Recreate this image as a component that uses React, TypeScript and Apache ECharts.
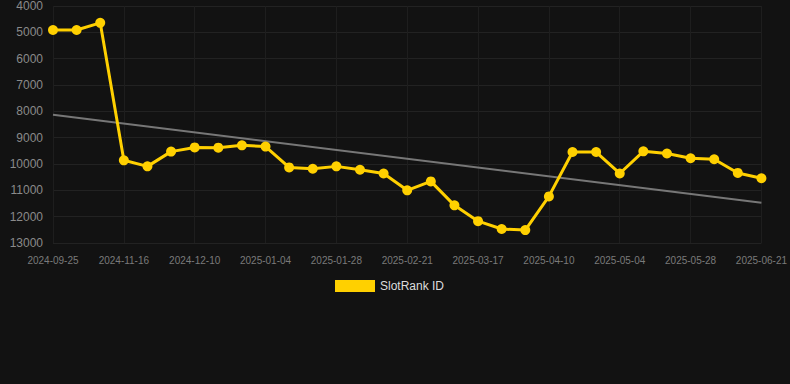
import React, { useEffect, useRef } from "react";
import * as echarts from "echarts";

const categories = [
  "2024-09-25", "2024-10-12", "2024-10-30", "2024-11-16", "2024-11-24", "2024-12-02",
  "2024-12-10", "2024-12-18", "2024-12-26", "2025-01-04", "2025-01-12", "2025-01-20",
  "2025-01-28", "2025-02-05", "2025-02-13", "2025-02-21", "2025-03-01", "2025-03-09",
  "2025-03-17", "2025-03-25", "2025-04-02", "2025-04-10", "2025-04-18", "2025-04-26",
  "2025-05-04", "2025-05-12", "2025-05-20", "2025-05-28", "2025-06-05", "2025-06-13",
  "2025-06-21",
];

const rankValues = [
  4910, 4910, 4640, 9860, 10090, 9530, 9370, 9380, 9290, 9340,
  10130, 10180, 10090, 10220, 10360, 11000, 10660, 11570, 12170, 12470,
  12510, 11230, 9545, 9545, 10360, 9520, 9600, 9780, 9820, 10340,
  10540,
];

const trendStart = 8130;
const trendEnd = 11470;

const yTicks = { min: 4000, max: 13000, interval: 1000 };

export default function App() {
  const ref = useRef<HTMLDivElement>(null);
  useEffect(() => {
    document.body.style.margin = "0";
    document.body.style.background = "#121212";
    if (!ref.current) return;
    const chart = echarts.init(ref.current, undefined, { renderer: "svg" });
    const trendData = categories.map((_, i) =>
      i === 0 ? trendStart : i === categories.length - 1 ? trendEnd : null
    );
    chart.setOption({
      animation: false,
      backgroundColor: "#121212",
      grid: { left: 53, right: 28, top: 6, bottom: 141 },
      legend: {
        top: 275,
        left: 330,
        itemWidth: 40,
        itemHeight: 12,
        data: [{ name: "SlotRank ID", icon: "rect" }],
        textStyle: { color: "#dddddd", fontSize: 12, fontFamily: "Arial, Liberation Sans, sans-serif" },
      },
      xAxis: {
        type: "category",
        boundaryGap: false,
        data: categories,
        axisLine: { show: false },
        axisTick: { show: false },
        axisLabel: {
          interval: 2,
          color: "#7a7a7a",
          fontSize: 10,
          margin: 12,
          fontFamily: "Arial, Liberation Sans, sans-serif",
        },
        splitLine: { show: true, interval: 2, lineStyle: { color: "#1e1e1e", width: 1 } },
      },
      yAxis: {
        type: "value",
        inverse: true,
        min: yTicks.min,
        max: yTicks.max,
        interval: yTicks.interval,
        axisLine: { show: false },
        axisTick: { show: false },
        axisLabel: {
          color: "#8a8a8a",
          fontSize: 12,
          margin: 10,
          formatter: (v: number) => String(v),
          fontFamily: "Arial, Liberation Sans, sans-serif",
        },
        splitLine: { lineStyle: { color: "#222222", width: 1 } },
      },
      series: [
        {
          name: "SlotRank ID",
          type: "line",
          data: rankValues,
          symbol: "circle",
          symbolSize: 10,
          itemStyle: { color: "#FFD000" },
          lineStyle: { color: "#FFD000", width: 3 },
          z: 3,
        },
        {
          name: "Trend",
          type: "line",
          data: trendData,
          connectNulls: true,
          symbol: "none",
          lineStyle: { color: "#777777", width: 2 },
          z: 2,
        },
      ],
    });
    return () => chart.dispose();
  }, []);
  return <div ref={ref} style={{ width: 790, height: 384 }} />;
}
